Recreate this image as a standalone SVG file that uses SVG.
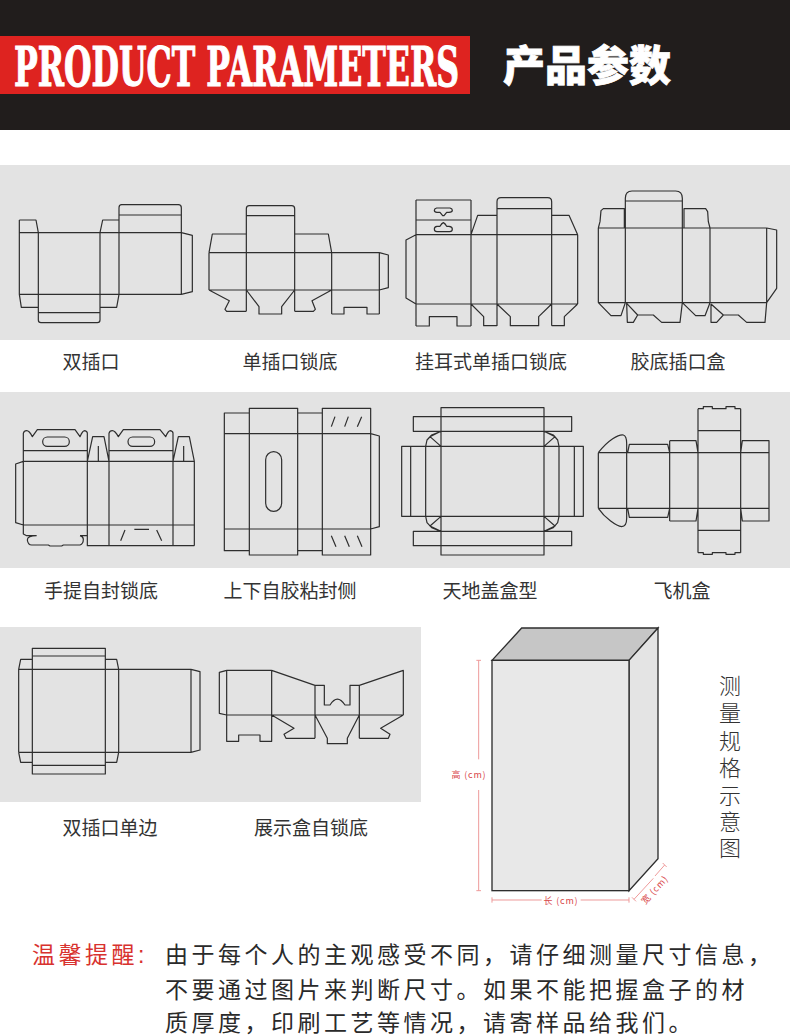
<svg xmlns="http://www.w3.org/2000/svg" width="790" height="1036" viewBox="0 0 790 1036">
<style>
.l{fill:none;stroke:#2e2e2e;stroke-width:3.6;stroke-linejoin:round}
.p{fill:#e3e3e3}
.c{font-family:"Noto Sans CJK SC","Liberation Sans",sans-serif;font-size:19px;fill:#333;text-anchor:middle}
.d{fill:none;stroke:#ee9a9a;stroke-width:3}
.dt{font-family:"Noto Sans CJK SC","Liberation Sans",sans-serif;font-size:9px;letter-spacing:.8px;fill:#d9484a;text-anchor:middle}
.v{font-family:"Liberation Sans","Noto Sans CJK SC",sans-serif;font-size:22px;font-weight:300;fill:#333;text-anchor:middle}
.b{font-family:"Liberation Sans","Noto Sans CJK SC",sans-serif;font-size:23px;letter-spacing:3.5px;fill:#2a2a2a}
</style>
<rect width="790" height="1036" fill="#fff"/>
<rect width="790" height="130" fill="#211d1c"/>
<rect y="36" width="470" height="58" fill="#de2320"/>
<text transform="translate(14 86) scale(.575 1)" font-family="DejaVu Serif,serif" font-weight="700" font-size="55" fill="#fff" stroke="#fff" stroke-width="1.2">PRODUCT PARAMETERS</text>
<text x="503" y="81" font-family="Noto Sans CJK SC,sans-serif" font-weight="900" font-size="42" fill="#fff" stroke="#fff" stroke-width=".8">产品参数</text>
<rect class="p" y="165" width="790" height="175"/>
<rect class="p" y="392" width="790" height="176"/>
<rect class="p" y="627" width="421" height="175"/>

<g id="box1"><g transform="translate(0 160) scale(.33333)"><path class="l" d="M58 218H544M58 403H544M58 180V403L64 442H115M58 180H108L115 218M115 218V480Q115 488 123 488H292Q300 488 300 480V218M115 458H300M300 218L308 180H357M357 403V143Q357 134 365 134H535Q544 134 544 143V403M357 165H544M544 218L577 226V395L544 403M300 442H350L357 403"/></g><text class="c" x="91" y="369">双插口</text></g>

<g id="box2"><g transform="translate(0 160) scale(.33333)"><path class="l" d="M627 278H1138M627 390H1138M627 278V390M739 146V454M739 146Q739 137 748 137H875Q884 137 884 146V454M739 167H884M627 278L637 222H739M884 222H985L995 278M995 278V462M1138 278V462M1138 278L1165 285V383L1138 390M627 390L688 422L675 448L680 454H739M739 390L777 440V462H845V440L884 390M884 454H940L946 448L936 422L995 390M995 462H1032V442H1101V462H1138"/></g><text class="c" x="290" y="369">单插口锁底</text></g>

<g id="box3"><g transform="translate(395 160) scale(.33333)"><path class="l" d="M63 120H228M63 180H228M63 224H548M63 432H548M63 120V498M228 120V498M306 125V498M306 125Q306 113 318 113H458Q470 113 470 125V497M306 146H470M548 224V432M228 224L248 166H306M470 166H522L548 224M63 224L33 240V414L63 432M63 498H103V470H186V498H228M228 432L266 470V497H306M306 432L346 470V497H431V470L470 432M470 497H508V470L548 432"/><path class="l" d="M125 144H165Q172 146 172 151Q172 157 162 157H155L147 167H143L135 157H126Q118 157 118 151Q118 146 125 144Z"/><path class="l" d="M126 215H164Q172 215 172 207Q172 200 162 199H155Q150 190 145 188Q140 190 135 199H126Q118 200 118 207Q118 215 126 215Z"/></g><text class="c" x="491" y="369">挂耳式单插口锁底</text></g>

<g id="box4"><g transform="translate(395 160) scale(.33333)"><path class="l" d="M610 204H1115M610 428H1115M610 204V428M691 115V428M862 115V428M945 204V428M1115 204V428M691 115Q691 93 711 93H842Q862 93 862 115M691 123H862M610 204L615 185L618 152L625 146H688V204M867 204V146H932L938 155L940 185L945 204M1115 204L1145 210V385L1115 428M610 428L648 467H678L691 428M695 430L697 487H715L728 465H775L800 487H855L862 428M695 430L728 465M862 428L902 467H930L945 428M948 432V487H965L985 465H1030L1055 487H1110L1115 428M948 432L985 465"/></g><text class="c" x="678" y="369">胶底插口盒</text></g>

<g id="box5"><g transform="translate(0 390) scale(.33333)"><path class="l" d="M70 214H583M70 405H583M70 130V432L80 437H110M240 437H262M70 214L47 222V398L70 405M70 130Q72 122 80 122Q88 122 97 140L112 119H225L240 140Q248 122 254 122Q262 124 262 130V467H583M70 182H262M327 130V467M327 130Q329 122 337 122Q345 122 355 140L370 119H480L497 140Q505 122 511 122Q519 124 519 130V467M327 182H519M583 214V467M262 214L278 140H312L327 214M295 168V214M519 214L535 140H568L583 214M551 168V214M110 437Q82 437 82 450Q84 465 95 465H145L150 468H185L190 465H240Q250 462 250 448Q250 440 240 437M375 420L362 452M403 418H447M470 420L485 452"/><rect class="l" x="128" y="141" width="80" height="28" rx="14"/><rect class="l" x="384" y="141" width="80" height="28" rx="14"/></g><text class="c" x="101" y="598">手提自封锁底</text></g>

<g id="box6"><g transform="translate(0 390) scale(.33333)"><path class="l" d="M673 131H1112M673 417H1112M673 69H748V55H893V69H967V55H1112V495H967V482H893V495H748V482H673ZM748 55V495M893 55V495M967 55V495M1112 131L1138 138V410L1112 417M1005 80L994 110M1045 80L1034 110M1085 80L1072 110M994 437L1008 470M1034 437L1048 470M1072 437L1086 470"/><rect class="l" x="797" y="185" width="48" height="179" rx="24"/></g><text class="c" x="290" y="598">上下自胶粘封侧</text></g>

<g id="box7"><g transform="translate(395 390) scale(.33333)"><path class="l" d="M138 53H447V495H138ZM138 169H447M138 379H447M138 80H447M138 124H447M138 424H447M138 467H447M138 80H55V124H138M447 80H530V124H447M138 424H55V467H138M447 424H530V467H447M138 169H20V379H138M447 169H565V379H447M47 169V379M92 169V379M492 169V379M538 169V379M92 169L96 150L110 135L138 124M138 169L105 140L138 124M447 124L475 135L488 150L492 169M447 169L480 140L447 124M92 379L96 398L110 413L138 424M138 379L105 408L138 424M447 424L475 413L488 398L492 379M447 379L480 408L447 424"/></g><text class="c" x="490" y="598">天地盖盒型</text></g>

<g id="box8"><g transform="translate(395 390) scale(.33333)"><path class="l" d="M610 188H1122M610 355H1122M610 188V355M610 188C640 150 670 133 685 135Q695 138 695 160V385Q695 410 680 410C665 408 630 385 610 355M698 188L703 163H818L824 188M698 355L703 382H818L824 355M824 152V393M824 152H903L909 188M824 393H903L909 355M909 56V488M1037 56V488M909 122H1037M909 421H1037M909 56H925V50H952V56H993V50H1020V56H1037M909 488H925V493H952V488H993V493H1020V488H1037M1037 188L1042 152H1122V393H1042L1037 355"/></g><text class="c" x="682" y="598">飞机盒</text></g>

<g id="box9"><g transform="translate(0 625) scale(.33333)"><path class="l" d="M56 133H573M56 382H573M97 70H316V447H97ZM97 93H316M97 421H316M56 133V382M56 133L62 103H97M56 382L62 412H97M316 103H350L356 133V382L350 412H316M573 133V382M573 133L600 140V375L573 382"/></g><text class="c" x="110" y="835">双插口单边</text></g>

<g id="box10"><g transform="translate(0 625) scale(.33333)"><path class="l" d="M680 136H815M680 270H1210M680 136L658 142V265L680 270M680 136V349H716V330H780V349H815V136M815 136L945 181V340M945 181H973V240H990Q1012 205 1035 240H1050V181H1078V340M1078 181L1210 136V270M815 270L882 310L852 328L858 340H945M945 270L982 340V356H1042V340L1078 270M1078 340H1165L1170 328L1142 310L1210 270"/></g><text class="c" x="311" y="835">展示盒自锁底</text></g>

<g id="measure">
<g transform="translate(430 620) scale(.33333)">
<path d="M186 121L275 24H684L597 121Z" fill="#c6c6c6" stroke="#2e2e2e" stroke-width="4"/>
<path d="M597 121L684 24V716L597 812Z" fill="#e4e4e4" stroke="#2e2e2e" stroke-width="4"/>
<rect x="186" y="121" width="411" height="691" fill="#e8e8e8" stroke="#2e2e2e" stroke-width="4"/>
<path class="d" d="M146 121V418M146 510V812M139 121H153M139 812H153M186 840H335M452 840H597M186 832V848M597 832V848M612 838L670 775M675 768L704 735M606 832L618 844M698 729L710 741"/>
</g>
<text class="dt" x="469" y="778">高 (cm)</text>
<text class="dt" x="561" y="904">长 (cm)</text>
<text class="dt" transform="translate(657 892) rotate(-47)">宽 (cm)</text>
<text class="v"><tspan x="730" y="694">测</tspan><tspan x="730" y="721">量</tspan><tspan x="730" y="749">规</tspan><tspan x="730" y="776">格</tspan><tspan x="730" y="804">示</tspan><tspan x="730" y="830">意</tspan><tspan x="730" y="856">图</tspan></text>
</g>

<g id="notice">
<text class="b" x="32" y="962.5" style="fill:#d8322e">温馨提醒:</text>
<text class="b" x="165" y="962.5">由于每个人的主观感受不同，请仔细测量尺寸信息，</text>
<text class="b" x="165" y="997.5">不要通过图片来判断尺寸。如果不能把握盒子的材</text>
<text class="b" x="165" y="1031">质厚度，印刷工艺等情况，请寄样品给我们。</text>
</g>
</svg>
